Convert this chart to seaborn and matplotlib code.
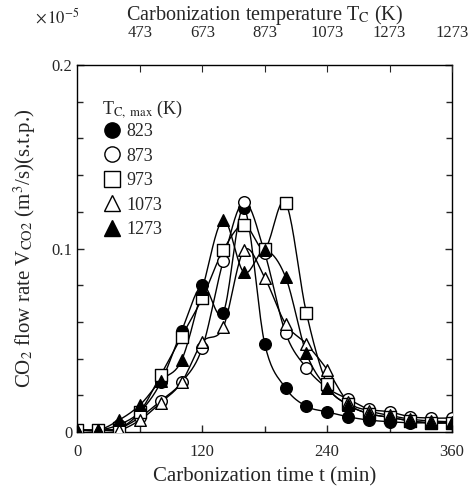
import numpy as np
import pandas as pd
import matplotlib
matplotlib.use("Agg")
import matplotlib.pyplot as plt
import seaborn as sns
from matplotlib.lines import Line2D
from matplotlib.ticker import MultipleLocator

# ---- data (values in units of 1e-5 m3/s) ----
time_min = [0, 20, 40, 60, 80, 100, 120, 140, 160, 180, 200, 220, 240, 260, 280, 300, 320, 340, 360]
v_823 = [0.001, 0.001, 0.004, 0.011, 0.027, 0.055, 0.080, 0.065, 0.122, 0.048, 0.024, 0.014, 0.011, 0.0083, 0.0065, 0.0056, 0.005, 0.005, 0.005]
v_873 = [0.001, 0.001, 0.002, 0.008, 0.017, 0.027, 0.046, 0.093, 0.1255, 0.0975, 0.054, 0.035, 0.024, 0.018, 0.0125, 0.011, 0.0083, 0.0076, 0.0076]
v_973 = [0.001, 0.001, 0.002, 0.011, 0.031, 0.052, 0.073, 0.099, 0.113, 0.100, 0.125, 0.065, 0.026, 0.015, 0.010, 0.008, 0.006, 0.005, 0.005]
v_1073 = [0.001, 0.001, 0.001, 0.0065, 0.016, 0.027, 0.049, 0.057, 0.099, 0.084, 0.059, 0.048, 0.034, 0.0165, 0.0116, 0.009, 0.007, 0.006, 0.0056]
v_1273 = [0.001, 0.001, 0.0065, 0.0147, 0.028, 0.039, 0.078, 0.1155, 0.087, 0.099, 0.0845, 0.043, 0.024, 0.0147, 0.010, 0.008, 0.006, 0.005, 0.005]
series_labels = ["823", "873", "973", "1073", "1273"]
series_values = [v_823, v_873, v_973, v_1073, v_1273]
top_tick_labels = ["473", "673", "873", "1073", "1273", "1273"]

markers = ["o", "o", "s", "^", "^"]
faces = ["black", "white", "white", "white", "black"]

sns.set_style("ticks")
plt.rcParams["font.family"] = ["Liberation Serif", "DejaVu Serif"]
plt.rcParams["mathtext.fontset"] = "stix"
plt.rcParams["xtick.direction"] = "in"
plt.rcParams["ytick.direction"] = "in"


def catmull_rom(x, y, n=20):
    x = np.asarray(x, float)
    y = np.asarray(y, float)
    xs, ys = [], []
    m = len(x)
    for i in range(m - 1):
        p0 = y[i - 1] if i > 0 else y[i]
        p1, p2 = y[i], y[i + 1]
        p3 = y[i + 2] if i + 2 < m else y[i + 1]
        s = np.linspace(0, 1, n, endpoint=False)
        yy = 0.5 * ((2 * p1) + (-p0 + p2) * s + (2 * p0 - 5 * p1 + 4 * p2 - p3) * s ** 2
                    + (-p0 + 3 * p1 - 3 * p2 + p3) * s ** 3)
        xs.append(x[i] + (x[i + 1] - x[i]) * s)
        ys.append(yy)
    xs.append([x[-1]])
    ys.append([y[-1]])
    return np.concatenate(xs), np.concatenate(ys)


rows = []
for lab, vals in zip(series_labels, series_values):
    xs, ys = catmull_rom(time_min, vals)
    rows.append(pd.DataFrame({"t": xs, "v": ys, "series": lab}))
smooth = pd.concat(rows, ignore_index=True)

fig = plt.figure(figsize=(4.73, 4.97), dpi=100)
ax = fig.add_axes([0.1638, 0.1308, 0.7918, 0.7382])

sns.lineplot(data=smooth, x="t", y="v", units="series", estimator=None, sort=False,
             color="black", lw=1.0, ax=ax, legend=False)

for lab, vals, mk, fc in zip(series_labels, series_values, markers, faces):
    df = pd.DataFrame({"t": time_min, "v": vals})
    sns.scatterplot(data=df, x="t", y="v", marker=mk, s=70, facecolor=fc,
                    edgecolor="black", linewidth=1.0, ax=ax, zorder=3, legend=False)

ax.set_xlim(0, 360)
ax.set_ylim(0, 0.2)
ax.xaxis.set_major_locator(MultipleLocator(120))
ax.xaxis.set_minor_locator(MultipleLocator(60))
ax.yaxis.set_major_locator(MultipleLocator(0.1))
ax.yaxis.set_minor_locator(MultipleLocator(0.02))
ax.set_yticks([0, 0.1, 0.2])
ax.set_yticklabels(["0", "0.1", "0.2"])
ax.tick_params(which="both", direction="in", right=True, labelsize=12, width=1)
ax.tick_params(which="major", length=5)
ax.tick_params(which="minor", length=4)
ax.tick_params(axis="x", pad=9)
for sp in ax.spines.values():
    sp.set_linewidth(1.0)
    sp.set_color("black")

ax.set_xlabel("Carbonization time t (min)", fontsize=15, labelpad=5)
ax.set_ylabel(r"CO$_2$ flow rate V$_{\rm CO2}$ (m$^3$/s)(s.t.p.)", fontsize=15, labelpad=10)

top = ax.twiny()
top.set_xlim(0, 360)
top.set_xticks([60, 120, 180, 240, 300, 360])
top.set_xticklabels(top_tick_labels)
top.tick_params(direction="in", labelsize=12, length=5, pad=17)
top.set_xlabel(r"Carbonization temperature T$_{\rm C}$ (K)", fontsize=14.5, labelpad=4)
for sp in top.spines.values():
    sp.set_visible(False)

fig.text(0.074, 0.966, r"$\times\,10^{-5}$", fontsize=12, ha="left", va="center")

handles = [Line2D([], [], marker=mk, linestyle="none", markerfacecolor=fc,
                  markeredgecolor="black", markersize=11, markeredgewidth=1.0)
           for mk, fc in zip(markers, faces)]
leg = ax.legend(handles, series_labels, title=r"T$_{\rm C,\ max}$ (K)", loc="upper left",
                bbox_to_anchor=(0.045, 0.928), frameon=False, fontsize=13, title_fontsize=13,
                handletextpad=0.15, labelspacing=0.42, borderaxespad=0, handlelength=1.2)
leg._legend_box.align = "left"
leg._legend_box.sep = 2

fig.savefig("out.png", dpi=100)
